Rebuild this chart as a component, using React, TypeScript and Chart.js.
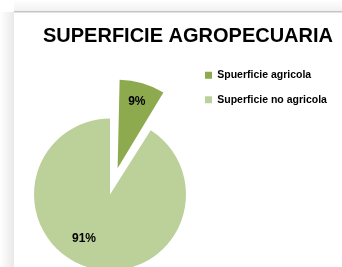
import React, { useEffect, useRef } from "react";
import { Chart, registerables } from "chart.js";

Chart.register(...registerables);

const titleText = "SUPERFICIE AGROPECUARIA";
const categories = ["Spuerficie agricola", "Superficie no agricola"];
const values = [9, 91];
const sliceColors = ["#8DAA4F", "#BCD09A"];
const sliceOffsets = [109, 0];
const labelAngleShiftDeg = [0, 14];
const labelRadiusFactor = [0.74, 0.68];

// Chart.js ArcElement translates an offset slice by offset/4 * (2 - sin(circumference))
function effectiveOffset(offset: number, circumference: number) {
  return (offset / 4) * (2 - Math.sin(Math.min(Math.PI, circumference || 0)));
}

const framePlugin = {
  id: "frame",
  beforeDraw(chart: any) {
    const { ctx, width, height } = chart;
    ctx.save();
    ctx.fillStyle = "#ffffff";
    ctx.fillRect(0, 0, width, height);
    const g = ctx.createLinearGradient(0, 0, 14, 0);
    g.addColorStop(0, "#ffffff");
    g.addColorStop(1, "#e9e9e9");
    ctx.fillStyle = g;
    ctx.fillRect(0, 12, 14, height - 12);
    const gt = ctx.createLinearGradient(0, 0, 0, 11);
    gt.addColorStop(0, "#ffffff");
    gt.addColorStop(1, "#f1f1f1");
    ctx.fillStyle = gt;
    ctx.fillRect(14, 0, width - 14, 11);
    ctx.fillStyle = "#c4c4c4";
    ctx.fillRect(14, 11, width - 14, 1.5);
    ctx.restore();
  },
};

const labelPlugin = {
  id: "sliceLabels",
  afterDatasetsDraw(chart: any) {
    const { ctx } = chart;
    const meta = chart.getDatasetMeta(0);
    const data = chart.data.datasets[0].data as number[];
    const total = data.reduce((a, b) => a + b, 0);
    ctx.save();
    ctx.font = "bold 12px 'Liberation Sans', sans-serif";
    ctx.fillStyle = "#000000";
    ctx.textAlign = "center";
    ctx.textBaseline = "middle";
    meta.data.forEach((arc: any, i: number) => {
      const p = arc.getProps(["x", "y", "startAngle", "endAngle", "outerRadius", "circumference"], true);
      const mid = (p.startAngle + p.endAngle) / 2;
      const off = effectiveOffset(arc.options.offset || 0, p.circumference);
      const ang = mid + (labelAngleShiftDeg[i] * Math.PI) / 180;
      const ox = p.x + Math.cos(mid) * off;
      const oy = p.y + Math.sin(mid) * off;
      const d = p.outerRadius * labelRadiusFactor[i];
      const x = ox + Math.cos(ang) * d;
      const y = oy + Math.sin(ang) * d;
      ctx.fillText(Math.round((data[i] / total) * 100) + "%", x, y);
    });
    ctx.restore();
  },
};

export default function App() {
  const ref = useRef<HTMLCanvasElement>(null);
  useEffect(() => {
    if (!ref.current) return;
    const chart = new Chart(ref.current, {
      type: "pie",
      data: {
        labels: categories,
        datasets: [
          {
            data: values,
            backgroundColor: sliceColors,
            borderWidth: 0,
            offset: sliceOffsets,
          },
        ],
      },
      options: {
        animation: false,
        responsive: false,
        radius: 76,
        layout: { padding: { top: 12, left: 29, right: 9, bottom: 0 } },
        plugins: {
          tooltip: { enabled: false },
          title: {
            display: true,
            text: titleText,
            align: "end",
            color: "#000000",
            font: { family: "'Liberation Sans', sans-serif", size: 20, weight: "bold" },
            padding: { top: 12, bottom: 8 },
          },
          legend: {
            position: "right",
            align: "start",
            fullSize: false,
            maxWidth: 142,
            labels: {
              boxWidth: 7,
              boxHeight: 7,
              padding: 14,
              color: "#000000",
              font: { family: "'Liberation Sans', sans-serif", size: 10.5, weight: "bold" },
            },
          },
        },
      },
      plugins: [framePlugin, labelPlugin],
    });
    return () => chart.destroy();
  }, []);
  return (
    <div style={{ position: "fixed", left: 0, top: 0, width: 342, height: 333, overflow: "hidden" }}>
      <canvas ref={ref} width={342} height={333} style={{ display: "block" }} />
    </div>
  );
}
